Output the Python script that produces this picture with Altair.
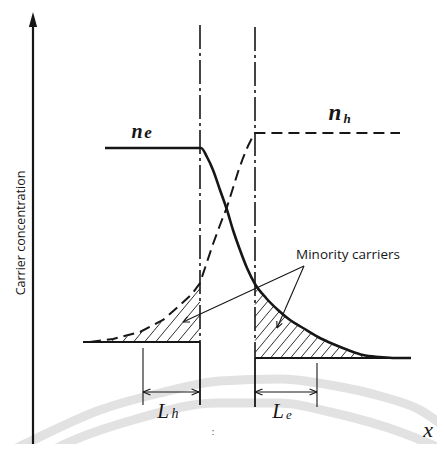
import altair as alt
import numpy as np
import pandas as pd

# ---- values (arbitrary units: position to the right of the
# concentration axis, concentration measured up from the bottom of the picture) ----
ne_pos = [72, 168, 174, 180, 187, 194, 200, 207, 214, 222, 233, 245, 257, 270, 285, 300, 315, 330, 347, 362, 378]
ne_conc = [296, 296, 287, 274, 254, 234, 214, 194, 176, 160, 146, 134, 124, 116, 107, 100, 94, 89, 87, 86, 86]

nh_pos = [57, 80, 107, 130, 147, 159, 167, 174, 180, 187, 194, 200, 205, 210, 215, 219, 222, 367]
nh_conc = [102, 105, 112, 124, 139, 150, 161, 182, 200, 219, 237, 256, 272, 286, 298, 306, 311, 311]

junction_pos = [167, 222]          # left and right edges of the junction
junction_top = [419, 417]
junction_base = [102, 86]          # minority-carrier baselines
junction_bottom = [39, 37]
left_base_start = 50
right_base_end = 378

diff_len_labels = ["L", "L"]
diff_len_subs = ["h", "e"]
diff_len_start = [110, 222]
diff_len_end = [166, 284]
diff_len_tick_top = [96, 81]
diff_len_level = 52

pointer_apex = (271, 178)
pointer_ends = [(150, 122), (244, 116)]

# faint watermark arcs in the scan
arc1_pos = [-33, 0, 67, 127, 187, 247, 297, 347, 387, 412]
arc1_conc = [-12, 4, 34, 51, 63, 65, 59, 48, 34, 17]
arc2_pos = [-3, 34, 100, 184, 247, 297, 370, 404, 422]
arc2_conc = [-18, 1, 24, 41, 41, 32, 11, -3, -11]

XS = alt.Scale(domain=[-25, 404], nice=False, zero=False)
YS = alt.Scale(domain=[0, 436], nice=False, zero=False)
INK = "#161616"


def line_df(xs, ys):
    return pd.DataFrame({"x": xs, "y": ys, "i": range(len(xs))})


def draw_line(df, **kw):
    return alt.Chart(df).mark_line(**kw).encode(
        x=alt.X("x:Q", scale=XS, axis=None),
        y=alt.Y("y:Q", scale=YS, axis=None),
        order="i:Q",
    )


def draw_rules(df, **kw):
    return alt.Chart(df).mark_rule(**kw).encode(
        x=alt.X("x:Q", scale=XS, axis=None),
        y=alt.Y("y:Q", scale=YS, axis=None),
        x2="x2:Q",
        y2="y2:Q",
    )


def wings(ax, ay, bx, by, length, ang_deg):
    """two short segments forming an open arrowhead at B, pointing from A to B"""
    ux, uy = ax - bx, ay - by
    n = np.hypot(ux, uy)
    ux, uy = ux / n, uy / n
    out = []
    for s in (1, -1):
        a = np.radians(ang_deg) * s
        rx = ux * np.cos(a) - uy * np.sin(a)
        ry = ux * np.sin(a) + uy * np.cos(a)
        out.append((bx, by, bx + length * rx, by + length * ry))
    return out


def hatch(curve_x, curve_y, base, xmin, xmax, spacing, k):
    segs = []
    p0 = xmax - 0.5
    lo = xmin - (np.interp(xmin, curve_x, curve_y) - base) / k
    while p0 > lo:
        xs0 = max(p0, xmin)
        grid = np.linspace(xs0, xmax, 1500)
        ly = base + k * (grid - p0)
        up = np.interp(grid, curve_x, curve_y) - 1.0
        hit = np.nonzero(ly >= up)[0]
        xe = grid[hit[0]] if len(hit) else xmax
        ys0 = base + k * (xs0 - p0)
        ye = base + k * (xe - p0)
        if np.hypot(xe - xs0, ye - ys0) > 1.5:
            segs.append((xs0, ys0, xe, ye))
        p0 -= spacing
    return segs


# ---- derived geometry ----
hatch_segs = hatch(nh_pos, nh_conc, junction_base[0], 60, junction_pos[0], 11, 1.2)
hatch_segs += hatch(ne_pos, ne_conc, junction_base[1], junction_pos[1], right_base_end, 10, 1.2)
hatch_df = pd.DataFrame(hatch_segs, columns=["x", "y", "x2", "y2"])

thin = []
# pointer lines from the "Minority carriers" label
for ex, ey in pointer_ends:
    thin.append((pointer_apex[0], pointer_apex[1], ex, ey))
    thin += wings(pointer_apex[0], pointer_apex[1], ex, ey, 7, 25)
# diffusion-length dimension arrows and ticks
for i in range(2):
    s, e = diff_len_start[i], diff_len_end[i]
    thin.append((s, diff_len_level, e, diff_len_level))
    thin += wings(e, diff_len_level, s, diff_len_level, 8, 22)
    thin += wings(s, diff_len_level, e, diff_len_level, 8, 22)
thin.append((diff_len_start[0], diff_len_tick_top[0], diff_len_start[0], junction_bottom[0]))
thin.append((diff_len_end[1], diff_len_tick_top[1], diff_len_end[1], junction_bottom[1]))
thin_df = pd.DataFrame(thin, columns=["x", "y", "x2", "y2"])

solid = [
    (junction_pos[0], junction_base[0], junction_pos[0], junction_bottom[0]),
    (junction_pos[1], junction_base[1], junction_pos[1], junction_bottom[1]),
    (left_base_start, junction_base[0], junction_pos[0], junction_base[0]),
    (junction_pos[1], junction_base[1], right_base_end, junction_base[1]),
]
solid_df = pd.DataFrame(solid, columns=["x", "y", "x2", "y2"])

dashdot_df = pd.DataFrame({
    "x": junction_pos, "x2": junction_pos, "y": junction_top, "y2": junction_base,
})

axis_df = pd.DataFrame({"x": [0], "x2": [0], "y": [-10], "y2": [420]})
arrow_df = pd.DataFrame({"x": [0], "y": [424.5]})

# ---- layers ----
arcs = draw_line(line_df(arc1_pos, arc1_conc), color="#e2e2e2", strokeWidth=9,
                 interpolate="monotone", clip=True, strokeCap="butt") + \
       draw_line(line_df(arc2_pos, arc2_conc), color="#e2e2e2", strokeWidth=9,
                 interpolate="monotone", clip=True, strokeCap="butt")

hatch_layer = draw_rules(hatch_df, color=INK, strokeWidth=0.9)
thin_layer = draw_rules(thin_df, color=INK, strokeWidth=1.1)
solid_layer = draw_rules(solid_df, color=INK, strokeWidth=1.8)
dashdot_layer = draw_rules(dashdot_df, color=INK, strokeWidth=1.6, strokeDash=[24, 4, 3, 4])
axis_layer = draw_rules(axis_df, color=INK, strokeWidth=2.2, clip=True)
arrow_layer = alt.Chart(arrow_df).mark_point(
    shape="M0,-1L-0.55,1L0.55,1Z", filled=True, size=225, color=INK, opacity=1
).encode(x=alt.X("x:Q", scale=XS, axis=None), y=alt.Y("y:Q", scale=YS, axis=None))

ne_layer = draw_line(line_df(ne_pos, ne_conc), color=INK, strokeWidth=2.6, interpolate="monotone")
nh_layer = draw_line(line_df(nh_pos, nh_conc), color=INK, strokeWidth=2.0, strokeDash=[11, 6],
                     interpolate="linear")

# carrier names (bold italic serif)
names_df = pd.DataFrame({
    "x": [104, 115, 302, 314],
    "y": [312, 311, 331, 325],
    "t": ["n", "e", "n", "h"],
    "fs": [20, 17, 23, 13],
})
names_layer = alt.Chart(names_df).mark_text(
    font="Liberation Serif", fontStyle="italic", fontWeight="bold", color=INK,
    baseline="middle", align="center"
).encode(
    x=alt.X("x:Q", scale=XS, axis=None), y=alt.Y("y:Q", scale=YS, axis=None),
    text="t:N", size=alt.Size("fs:Q", scale=None),
)

# diffusion-length labels and the x label (plain italic serif)
serif_df = pd.DataFrame({
    "x": [130, 142, 245, 256, 395],
    "y": [32, 30, 32, 29, 14],
    "t": [diff_len_labels[0], diff_len_subs[0], diff_len_labels[1], diff_len_subs[1], "x"],
    "fs": [21, 14, 21, 13, 22],
})
serif_layer = alt.Chart(serif_df).mark_text(
    font="Liberation Serif", fontStyle="italic", color=INK,
    baseline="middle", align="center"
).encode(
    x=alt.X("x:Q", scale=XS, axis=None), y=alt.Y("y:Q", scale=YS, axis=None),
    text="t:N", size=alt.Size("fs:Q", scale=None),
)

sans_df = pd.DataFrame({"x": [315], "y": [189], "t": ["Minority carriers"]})
sans_layer = alt.Chart(sans_df).mark_text(
    font="Open Sans", fontSize=13.5, color=INK, baseline="middle", align="center"
).encode(x=alt.X("x:Q", scale=XS, axis=None), y=alt.Y("y:Q", scale=YS, axis=None), text="t:N")

ylab_df = pd.DataFrame({"x": [-12], "y": [211], "t": ["Carrier concentration"]})
ylab_layer = alt.Chart(ylab_df).mark_text(
    font="Open Sans", fontSize=12.5, color=INK, angle=270, baseline="middle", align="center"
).encode(x=alt.X("x:Q", scale=XS, axis=None), y=alt.Y("y:Q", scale=YS, axis=None), text="t:N")

dot_df = pd.DataFrame({"x": [180], "y": [12], "t": [":"]})
dot_layer = alt.Chart(dot_df).mark_text(
    font="DejaVu Sans", fontSize=9, color="#444444", baseline="middle", align="center"
).encode(x=alt.X("x:Q", scale=XS, axis=None), y=alt.Y("y:Q", scale=YS, axis=None), text="t:N")

chart = alt.layer(
    arcs, hatch_layer, dashdot_layer, solid_layer, thin_layer, axis_layer, arrow_layer,
    nh_layer, ne_layer, names_layer, serif_layer, sans_layer, ylab_layer, dot_layer,
).properties(
    width=429, height=436, padding=0,
    autosize=alt.AutoSizeParams(type="none"),
    background="white",
).configure_view(stroke=None)

chart.save("out.html", embed_options={"renderer": "svg", "actions": False})
